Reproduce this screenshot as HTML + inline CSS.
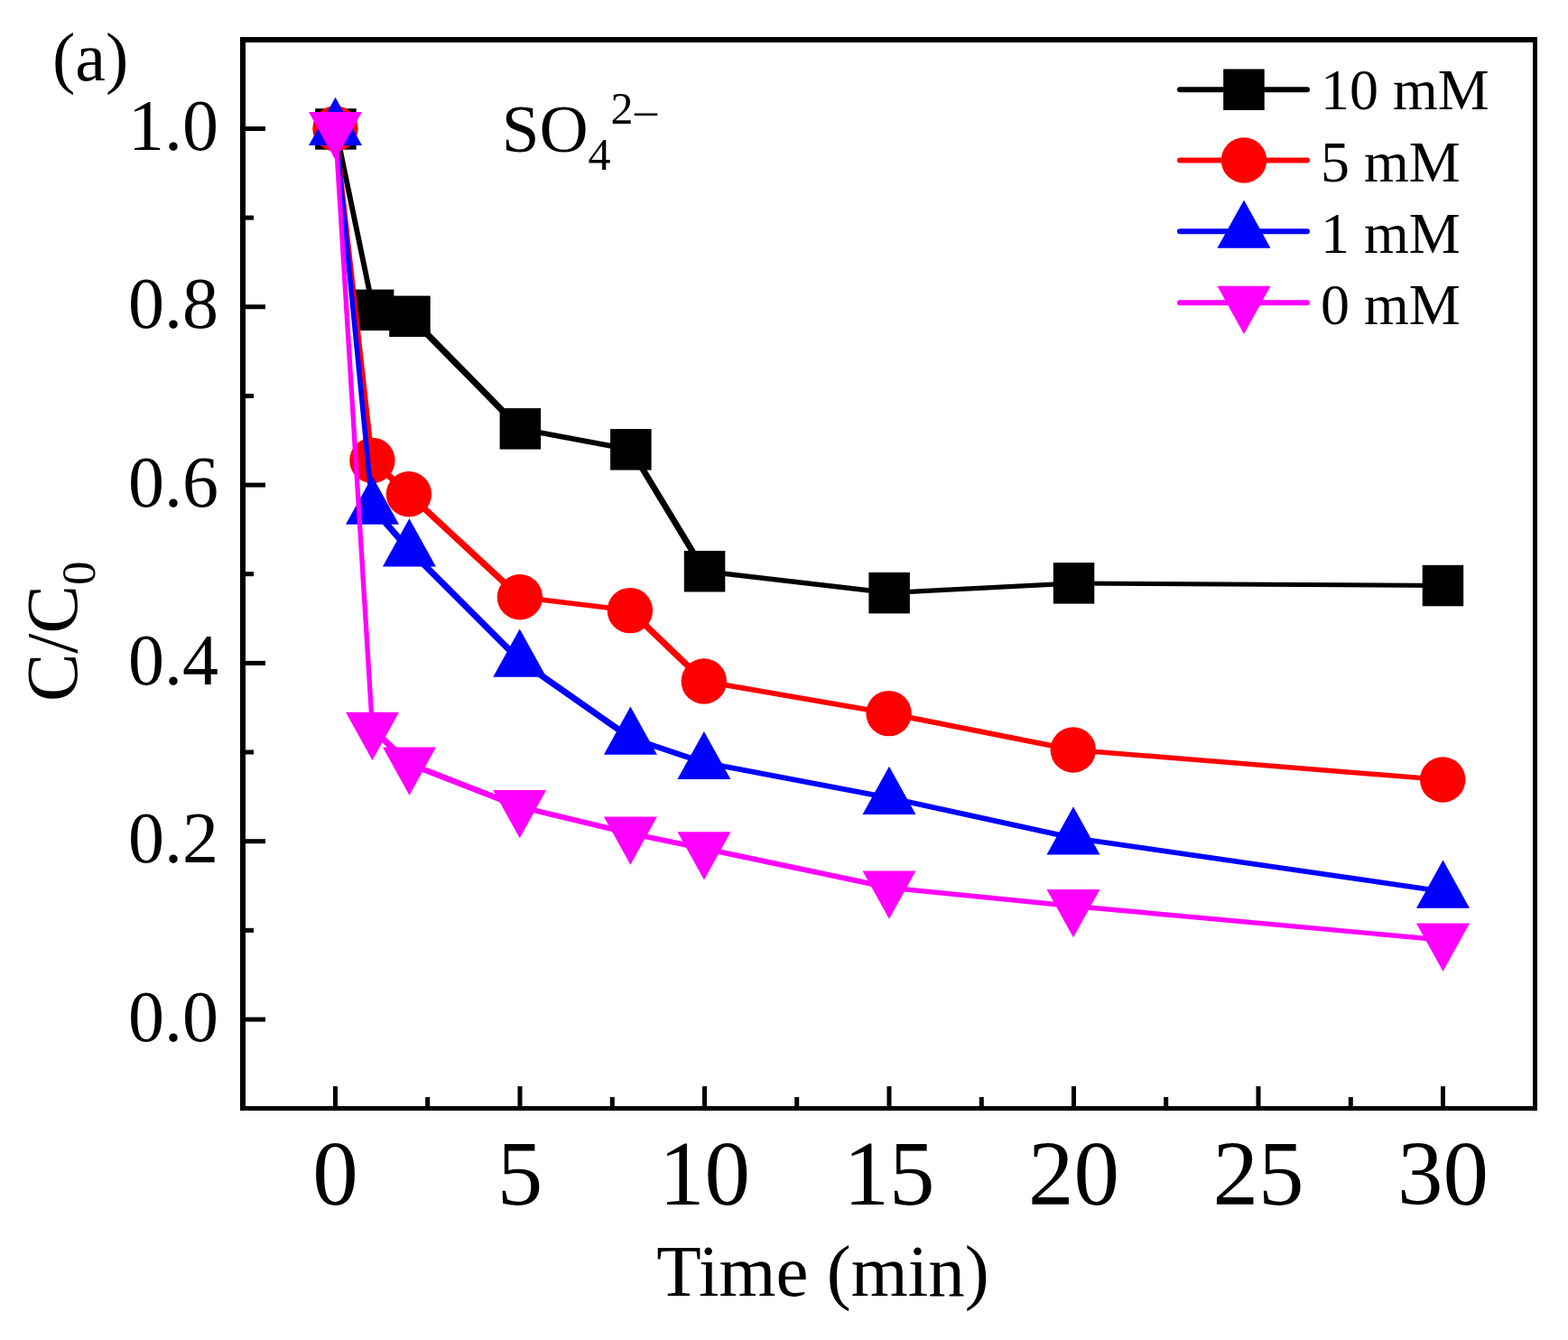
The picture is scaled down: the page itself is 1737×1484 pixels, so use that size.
<!DOCTYPE html>
<html><head><meta charset="utf-8"><title>C/C0 vs Time</title>
<style>
html,body{margin:0;padding:0;background:#fff;}
body{width:1737px;height:1484px;overflow:hidden;}
svg{display:block;}
text{font-family:"Liberation Serif","Times New Roman",serif;fill:#000;}
.yl{font-size:80px;}
.xl{font-size:101px;}
.at{font-size:80px;}
.sub{font-size:53px;}
.so{font-size:75px;}
.sub2{font-size:50px;}
.lg{font-size:64px;}
.pa{font-size:76px;}
.at2{font-size:81px;}
</style></head>
<body>
<svg width="1737" height="1484" viewBox="0 0 1737 1484">
<rect width="1737" height="1484" fill="#fff"/>
<rect x="266" y="41" width="6" height="1189" fill="#000"/>
<rect x="266" y="41" width="1437" height="6" fill="#000"/>
<rect x="1698" y="41" width="5" height="1189" fill="#000"/>
<rect x="266" y="1225" width="1437" height="5" fill="#000"/>
<rect x="272" y="1126.5" width="22" height="5" fill="#000"/>
<rect x="272" y="1027.8" width="9" height="5" fill="#000"/>
<rect x="272" y="929.2" width="22" height="5" fill="#000"/>
<rect x="272" y="830.5" width="9" height="5" fill="#000"/>
<rect x="272" y="731.9" width="22" height="5" fill="#000"/>
<rect x="272" y="633.2" width="9" height="5" fill="#000"/>
<rect x="272" y="534.6" width="22" height="5" fill="#000"/>
<rect x="272" y="436.0" width="9" height="5" fill="#000"/>
<rect x="272" y="337.3" width="22" height="5" fill="#000"/>
<rect x="272" y="238.6" width="9" height="5" fill="#000"/>
<rect x="272" y="140.0" width="22" height="5" fill="#000"/>
<rect x="369.0" y="1203" width="5" height="22" fill="#000"/>
<rect x="471.2" y="1215" width="5" height="10" fill="#000"/>
<rect x="573.5" y="1203" width="5" height="22" fill="#000"/>
<rect x="675.8" y="1215" width="5" height="10" fill="#000"/>
<rect x="778.0" y="1203" width="5" height="22" fill="#000"/>
<rect x="880.2" y="1215" width="5" height="10" fill="#000"/>
<rect x="982.5" y="1203" width="5" height="22" fill="#000"/>
<rect x="1084.8" y="1215" width="5" height="10" fill="#000"/>
<rect x="1187.0" y="1203" width="5" height="22" fill="#000"/>
<rect x="1289.2" y="1215" width="5" height="10" fill="#000"/>
<rect x="1391.5" y="1203" width="5" height="22" fill="#000"/>
<rect x="1493.8" y="1215" width="5" height="10" fill="#000"/>
<rect x="1596.0" y="1203" width="5" height="22" fill="#000"/>
<polygon points="369.5,140.5 374.5,140.5 416.1,340.9 416.1,345.9 411.1,345.9 369.5,145.5" fill="#000000"/>
<polygon points="411.1,340.9 416.1,340.9 456.5,347.9 456.5,352.9 451.5,352.9 411.1,345.9" fill="#000000"/>
<polygon points="451.5,347.9 456.5,347.9 578.9,472.4 578.9,477.4 573.9,477.4 451.5,352.9" fill="#000000"/>
<polygon points="573.9,472.4 578.9,472.4 701.4,495.4 701.4,500.4 696.4,500.4 573.9,477.4" fill="#000000"/>
<polygon points="696.4,495.4 701.4,495.4 783.0,630.2 783.0,635.2 778.0,635.2 696.4,500.4" fill="#000000"/>
<polygon points="778.0,630.2 783.0,630.2 987.6,654.1 987.6,659.1 982.6,659.1 778.0,635.2" fill="#000000"/>
<polygon points="982.6,654.1 1187.1,643.4 1192.1,643.4 1192.1,648.4 987.6,659.1 982.6,659.1" fill="#000000"/>
<polygon points="1187.1,643.4 1192.1,643.4 1600.9,646.0 1600.9,651.0 1595.9,651.0 1187.1,648.4" fill="#000000"/>
<rect x="349.2" y="120.2" width="45.5" height="45.5" fill="#000000"/>
<rect x="390.9" y="320.6" width="45.5" height="45.5" fill="#000000"/>
<rect x="431.2" y="327.6" width="45.5" height="45.5" fill="#000000"/>
<rect x="553.6" y="452.1" width="45.5" height="45.5" fill="#000000"/>
<rect x="676.1" y="475.1" width="45.5" height="45.5" fill="#000000"/>
<rect x="757.8" y="610.0" width="45.5" height="45.5" fill="#000000"/>
<rect x="962.4" y="633.9" width="45.5" height="45.5" fill="#000000"/>
<rect x="1166.8" y="623.1" width="45.5" height="45.5" fill="#000000"/>
<rect x="1575.7" y="625.8" width="45.5" height="45.5" fill="#000000"/>
<polygon points="369.0,139.9 374.0,139.9 414.9,507.4 414.9,512.4 409.9,512.4 369.0,144.9" fill="#ff0000"/>
<polygon points="409.9,507.4 414.9,507.4 455.4,544.8 455.4,549.8 450.4,549.8 409.9,512.4" fill="#ff0000"/>
<polygon points="450.4,544.8 455.4,544.8 578.4,658.8 578.4,663.8 573.4,663.8 450.4,549.8" fill="#ff0000"/>
<polygon points="573.4,658.8 578.4,658.8 700.4,673.6 700.4,678.6 695.4,678.6 573.4,663.8" fill="#ff0000"/>
<polygon points="695.4,673.6 700.4,673.6 782.3,752.0 782.3,757.0 777.3,757.0 695.4,678.6" fill="#ff0000"/>
<polygon points="777.3,752.0 782.3,752.0 987.1,787.6 987.1,792.6 982.1,792.6 777.3,757.0" fill="#ff0000"/>
<polygon points="982.1,787.6 987.1,787.6 1191.3,828.0 1191.3,833.0 1186.3,833.0 982.1,792.6" fill="#ff0000"/>
<polygon points="1186.3,828.0 1191.3,828.0 1600.7,861.0 1600.7,866.0 1595.7,866.0 1186.3,833.0" fill="#ff0000"/>
<circle cx="371.5" cy="142.4" r="25.2" fill="#ff0000"/>
<circle cx="412.4" cy="509.9" r="25.2" fill="#ff0000"/>
<circle cx="452.9" cy="547.3" r="25.2" fill="#ff0000"/>
<circle cx="575.9" cy="661.3" r="25.2" fill="#ff0000"/>
<circle cx="697.9" cy="676.1" r="25.2" fill="#ff0000"/>
<circle cx="779.8" cy="754.5" r="25.2" fill="#ff0000"/>
<circle cx="984.6" cy="790.1" r="25.2" fill="#ff0000"/>
<circle cx="1188.8" cy="830.5" r="25.2" fill="#ff0000"/>
<circle cx="1598.2" cy="863.5" r="25.2" fill="#ff0000"/>
<polygon points="369.0,139.9 374.0,139.9 415.0,559.8 415.0,564.8 410.0,564.8 369.0,144.9" fill="#0000ff"/>
<polygon points="410.0,559.8 415.0,559.8 455.9,606.4 455.9,611.4 450.9,611.4 410.0,564.8" fill="#0000ff"/>
<polygon points="450.9,606.4 455.9,606.4 578.2,728.7 578.2,733.7 573.2,733.7 450.9,611.4" fill="#0000ff"/>
<polygon points="573.2,728.7 578.2,728.7 700.9,814.7 700.9,819.7 695.9,819.7 573.2,733.7" fill="#0000ff"/>
<polygon points="695.9,814.7 700.9,814.7 782.4,842.1 782.4,847.1 777.4,847.1 695.9,819.7" fill="#0000ff"/>
<polygon points="777.4,842.1 782.4,842.1 987.5,881.0 987.5,886.0 982.5,886.0 777.4,847.1" fill="#0000ff"/>
<polygon points="982.5,881.0 987.5,881.0 1191.5,925.4 1191.5,930.4 1186.5,930.4 982.5,886.0" fill="#0000ff"/>
<polygon points="1186.5,925.4 1191.5,925.4 1601.0,984.7 1601.0,989.7 1596.0,989.7 1186.5,930.4" fill="#0000ff"/>
<polygon points="371.5,107.7 401.0,160.9 342.0,160.9" fill="#0000ff"/>
<polygon points="412.5,527.6 442.0,580.8 383.0,580.8" fill="#0000ff"/>
<polygon points="453.4,574.2 482.9,627.4 423.9,627.4" fill="#0000ff"/>
<polygon points="575.7,696.5 605.2,749.7 546.2,749.7" fill="#0000ff"/>
<polygon points="698.4,782.5 727.9,835.7 668.9,835.7" fill="#0000ff"/>
<polygon points="779.9,809.9 809.4,863.1 750.4,863.1" fill="#0000ff"/>
<polygon points="985.0,848.8 1014.5,902.0 955.5,902.0" fill="#0000ff"/>
<polygon points="1189.0,893.2 1218.5,946.4 1159.5,946.4" fill="#0000ff"/>
<polygon points="1598.5,952.5 1628.0,1005.7 1569.0,1005.7" fill="#0000ff"/>
<polygon points="369.0,139.9 374.0,139.9 415.0,804.7 415.0,809.7 410.0,809.7 369.0,144.9" fill="#ff00ff"/>
<polygon points="410.0,804.7 415.0,804.7 456.0,843.6 456.0,848.6 451.0,848.6 410.0,809.7" fill="#ff00ff"/>
<polygon points="451.0,843.6 456.0,843.6 578.2,891.0 578.2,896.0 573.2,896.0 451.0,848.6" fill="#ff00ff"/>
<polygon points="573.2,891.0 578.2,891.0 700.9,920.6 700.9,925.6 695.9,925.6 573.2,896.0" fill="#ff00ff"/>
<polygon points="695.9,920.6 700.9,920.6 782.5,937.3 782.5,942.3 777.5,942.3 695.9,925.6" fill="#ff00ff"/>
<polygon points="777.5,937.3 782.5,937.3 987.5,980.6 987.5,985.6 982.5,985.6 777.5,942.3" fill="#ff00ff"/>
<polygon points="982.5,980.6 987.5,980.6 1191.5,1001.0 1191.5,1006.0 1186.5,1006.0 982.5,985.6" fill="#ff00ff"/>
<polygon points="1186.5,1001.0 1191.5,1001.0 1601.0,1038.5 1601.0,1043.5 1596.0,1043.5 1186.5,1006.0" fill="#ff00ff"/>
<polygon points="371.5,177.1 401.0,123.9 342.0,123.9" fill="#ff00ff"/>
<polygon points="412.5,841.9 442.0,788.7 383.0,788.7" fill="#ff00ff"/>
<polygon points="453.5,880.8 483.0,827.6 424.0,827.6" fill="#ff00ff"/>
<polygon points="575.7,928.2 605.2,875.0 546.2,875.0" fill="#ff00ff"/>
<polygon points="698.4,957.8 727.9,904.6 668.9,904.6" fill="#ff00ff"/>
<polygon points="780.0,974.5 809.5,921.3 750.5,921.3" fill="#ff00ff"/>
<polygon points="985.0,1017.8 1014.5,964.6 955.5,964.6" fill="#ff00ff"/>
<polygon points="1189.0,1038.2 1218.5,985.0 1159.5,985.0" fill="#ff00ff"/>
<polygon points="1598.5,1075.7 1628.0,1022.5 1569.0,1022.5" fill="#ff00ff"/>
<text x="242" y="1152.5" text-anchor="end" class="yl">0.0</text>
<text x="242" y="955.2" text-anchor="end" class="yl">0.2</text>
<text x="242" y="757.9" text-anchor="end" class="yl">0.4</text>
<text x="242" y="560.6" text-anchor="end" class="yl">0.6</text>
<text x="242" y="363.3" text-anchor="end" class="yl">0.8</text>
<text x="242" y="166.0" text-anchor="end" class="yl">1.0</text>
<text x="371.5" y="1334" text-anchor="middle" class="xl">0</text>
<text x="576.0" y="1334" text-anchor="middle" class="xl">5</text>
<text x="780.5" y="1334" text-anchor="middle" class="xl">10</text>
<text x="985.0" y="1334" text-anchor="middle" class="xl">15</text>
<text x="1189.5" y="1334" text-anchor="middle" class="xl">20</text>
<text x="1394.0" y="1334" text-anchor="middle" class="xl">25</text>
<text x="1598.5" y="1334" text-anchor="middle" class="xl">30</text>
<text x="911.5" y="1435" text-anchor="middle" class="at2">Time (min)</text>
<text transform="translate(85,777) rotate(-90)" class="at">C/C<tspan class="sub" dy="20">0</tspan></text>
<text x="58" y="89" class="pa">(a)</text>
<text x="555.7" y="168" class="so">SO<tspan class="sub2" dy="20">4</tspan><tspan class="sub2" dy="-51">2</tspan><tspan class="sub2" dx="1.5" dy="1.5">–</tspan></text>
<line x1="1307" y1="99.3" x2="1448" y2="99.3" stroke="#000000" stroke-width="6" stroke-linecap="round"/>
<rect x="1355.2" y="76.5" width="45.5" height="45.5" fill="#000000"/>
<text x="1463" y="121.4" class="lg">10 mM</text>
<line x1="1307" y1="177.5" x2="1448" y2="177.5" stroke="#ff0000" stroke-width="6" stroke-linecap="round"/>
<circle cx="1378.0" cy="177.5" r="25.2" fill="#ff0000"/>
<text x="1463" y="201.2" class="lg">5 mM</text>
<line x1="1307" y1="256.2" x2="1448" y2="256.2" stroke="#0000ff" stroke-width="6" stroke-linecap="round"/>
<polygon points="1378.0,221.5 1407.5,274.7 1348.5,274.7" fill="#0000ff"/>
<text x="1463" y="279.5" class="lg">1 mM</text>
<line x1="1307" y1="335.3" x2="1448" y2="335.3" stroke="#ff00ff" stroke-width="6" stroke-linecap="round"/>
<polygon points="1378.0,370.0 1407.5,316.8 1348.5,316.8" fill="#ff00ff"/>
<text x="1463" y="358.6" class="lg">0 mM</text>
</svg>
</body></html>
